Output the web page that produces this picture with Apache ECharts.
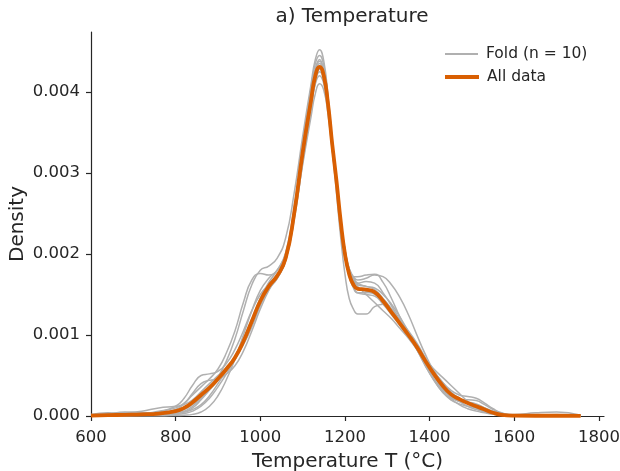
<!DOCTYPE html>
<html><head><meta charset="utf-8">
<script src="https://cdn.jsdelivr.net/npm/echarts@6/dist/echarts.min.js"></script>
<style>html,body{margin:0;padding:0;background:#fff}#c{width:620px;height:471px}</style>
</head><body><div id="c"></div>
<script>
// Temperature grid (°C)
var temps = [600,640,680,720,760,800,820,840,860,880,900,920,940,960,980,1000,1020,1040,1060,1080,1100,1120,1130,1140,1150,1160,1170,1180,1190,1200,1210,1220,1230,1250,1270,1290,1310,1330,1350,1370,1390,1410,1430,1450,1470,1490,1510,1530,1550,1570,1600,1650,1700,1757];
// Density values in units of 1e-3
var allData = [0.005,0.01,0.015,0.02,0.03,0.06,0.10,0.17,0.26,0.35,0.46,0.58,0.72,0.92,1.17,1.42,1.60,1.73,1.95,2.50,3.25,3.90,4.20,4.31,4.20,3.85,3.35,2.90,2.40,2.00,1.75,1.62,1.57,1.56,1.53,1.42,1.28,1.14,1.00,0.85,0.68,0.52,0.38,0.27,0.21,0.16,0.12,0.08,0.04,0.015,0.005,0.003,0.003,0.001];
var fold1 = [0.0,0.01,0.02,0.03,0.04,0.05,0.08,0.14,0.22,0.33,0.48,0.68,0.95,1.30,1.62,1.80,1.85,1.95,2.20,2.75,3.45,4.10,4.40,4.52,4.38,3.95,3.40,2.85,2.30,1.95,1.78,1.72,1.72,1.74,1.75,1.65,1.45,1.22,1.02,0.82,0.62,0.45,0.33,0.25,0.20,0.16,0.13,0.09,0.05,0.02,0.005,0.003,0.002,0.0];
var fold2 = [0.01,0.03,0.02,0.02,0.05,0.12,0.22,0.38,0.50,0.52,0.55,0.65,0.82,1.05,1.30,1.50,1.62,1.72,1.92,2.45,3.20,3.95,4.28,4.40,4.25,3.85,3.30,2.75,2.20,1.75,1.45,1.32,1.26,1.26,1.35,1.38,1.30,1.18,1.05,0.90,0.72,0.55,0.38,0.24,0.18,0.17,0.15,0.10,0.05,0.02,0.005,0.002,0.001,0.0];
var fold3 = [0.0,0.0,0.01,0.02,0.03,0.04,0.05,0.08,0.14,0.25,0.40,0.56,0.72,0.90,1.12,1.38,1.58,1.72,1.95,2.45,3.10,3.70,3.98,4.10,4.02,3.72,3.28,2.85,2.38,2.00,1.78,1.68,1.62,1.60,1.56,1.45,1.32,1.18,1.02,0.84,0.64,0.46,0.32,0.24,0.20,0.17,0.14,0.10,0.06,0.03,0.01,0.01,0.005,0.0];
var fold4 = [0.01,0.03,0.04,0.06,0.10,0.12,0.14,0.20,0.30,0.40,0.50,0.60,0.74,0.95,1.20,1.45,1.63,1.75,1.96,2.48,3.22,3.88,4.18,4.30,4.18,3.82,3.32,2.86,2.38,1.98,1.72,1.58,1.52,1.52,1.52,1.44,1.32,1.18,1.03,0.86,0.68,0.50,0.34,0.24,0.18,0.12,0.08,0.05,0.03,0.02,0.02,0.04,0.05,0.01];
var fold5 = [0.0,0.0,0.0,0.01,0.01,0.02,0.03,0.06,0.12,0.22,0.36,0.52,0.70,0.92,1.18,1.45,1.65,1.80,2.02,2.58,3.35,4.05,4.35,4.45,4.32,3.92,3.38,2.85,2.35,2.00,1.82,1.72,1.68,1.70,1.74,1.72,1.62,1.46,1.25,1.00,0.76,0.56,0.42,0.32,0.26,0.24,0.22,0.16,0.09,0.04,0.01,0.005,0.0,0.0];
var fold6 = [0.02,0.04,0.03,0.03,0.06,0.10,0.16,0.26,0.36,0.46,0.58,0.78,1.05,1.40,1.68,1.76,1.74,1.80,2.00,2.50,3.20,3.82,4.10,4.20,4.10,3.78,3.30,2.84,2.38,2.02,1.80,1.68,1.60,1.50,1.40,1.30,1.20,1.08,0.96,0.82,0.66,0.50,0.35,0.22,0.14,0.09,0.06,0.04,0.02,0.01,0.005,0.01,0.02,0.005];
var fold7 = [0.0,0.01,0.01,0.02,0.02,0.04,0.06,0.12,0.22,0.34,0.46,0.58,0.72,0.90,1.14,1.40,1.58,1.70,1.92,2.48,3.25,3.95,4.25,4.35,4.22,3.85,3.35,2.88,2.40,2.02,1.76,1.60,1.52,1.50,1.48,1.38,1.25,1.12,0.98,0.84,0.70,0.58,0.48,0.38,0.28,0.18,0.10,0.05,0.03,0.01,0.005,0.002,0.0,0.0];
var fold8 = [0.0,0.0,0.01,0.01,0.02,0.03,0.05,0.10,0.20,0.32,0.44,0.56,0.70,0.88,1.10,1.36,1.56,1.70,1.92,2.42,3.12,3.80,4.12,4.25,4.15,3.80,3.30,2.85,2.40,2.05,1.82,1.70,1.64,1.60,1.58,1.50,1.38,1.22,1.04,0.85,0.64,0.45,0.30,0.22,0.20,0.20,0.19,0.14,0.08,0.03,0.01,0.005,0.003,0.0];
var fold9 = [0.0,0.0,0.0,0.0,0.0,0.005,0.01,0.02,0.05,0.12,0.25,0.45,0.70,1.00,1.30,1.55,1.70,1.80,2.00,2.55,3.30,3.98,4.28,4.38,4.25,3.88,3.38,2.90,2.42,2.05,1.80,1.68,1.64,1.66,1.64,1.52,1.36,1.18,1.00,0.82,0.62,0.44,0.30,0.20,0.15,0.12,0.10,0.07,0.04,0.02,0.005,0.0,0.0,0.0];
var fold10 = [0.0,0.02,0.05,0.04,0.04,0.08,0.15,0.28,0.40,0.44,0.46,0.52,0.62,0.80,1.05,1.32,1.55,1.72,1.95,2.48,3.20,3.86,4.16,4.28,4.16,3.82,3.34,2.88,2.42,2.05,1.80,1.66,1.58,1.54,1.50,1.40,1.28,1.14,1.00,0.85,0.70,0.55,0.42,0.30,0.22,0.15,0.10,0.06,0.03,0.01,0.005,0.002,0.001,0.0];
var folds = [fold1,fold2,fold3,fold4,fold5,fold6,fold7,fold8,fold9,fold10];
var xTicks = [600,800,1000,1200,1400,1600,1800];
var yTicks = [0,0.001,0.002,0.003,0.004];

function pairs(ys){ return temps.map(function(t,i){ return [t, ys[i]*1e-3]; }); }

var FONT = 'DejaVu Sans';
var TXT = '#262626';
var GRAY = '#b0b0b0';
var ORANGE = '#d95f02';

var series = folds.map(function(f){
  return {type:'line', name:'Fold (n = 10)', data:pairs(f), showSymbol:false, symbol:'none',
    smooth:0.5, lineStyle:{color:GRAY, width:1.5}, itemStyle:{color:GRAY}, z:2};
});
series.push({type:'line', name:'All data', data:pairs(allData), showSymbol:false, symbol:'none',
  smooth:0.5, lineStyle:{color:ORANGE, width:3.8}, itemStyle:{color:ORANGE}, z:5});

var chart = echarts.init(document.getElementById('c'), null, {renderer:'canvas'});
chart.setOption({
  animation:false,
  backgroundColor:'#fff',
  textStyle:{fontFamily:FONT},
  title:{text:'a) Temperature', left:347, top:2, textAlign:'center',
    textStyle:{fontFamily:FONT, fontSize:20, fontWeight:'normal', color:TXT}},
  legend:[
    {data:['Fold (n = 10)'], left:440, top:41, itemWidth:33, itemHeight:2, icon:'rect',
      textStyle:{fontFamily:FONT, fontSize:15.5, color:TXT, padding:[0,0,0,3]}},
    {data:['All data'], left:440, top:64, itemWidth:34, itemHeight:4, icon:'rect',
      textStyle:{fontFamily:FONT, fontSize:15.5, color:TXT, padding:[0,0,0,3]}}
  ],
  grid:{left:91, right:16, top:32, bottom:55, containLabel:false, outerBoundsMode:'none'},
  xAxis:{type:'value', min:600, max:1812, interval:200,
    name:'Temperature T (°C)', nameLocation:'middle', nameGap:36, nameMoveOverlap:false,
    nameTextStyle:{fontFamily:FONT, fontSize:20, color:TXT},
    axisLine:{show:true, onZero:false, lineStyle:{color:TXT, width:1.2}},
    axisTick:{show:true, length:5, lineStyle:{color:TXT, width:1.2}, customValues:xTicks},
    axisLabel:{fontFamily:FONT, fontSize:16.5, color:TXT, margin:13, customValues:xTicks,
      formatter:function(v){ return String(v); }},
    splitLine:{show:false}},
  yAxis:{type:'value', min:0, max:0.00474,
    name:'Density', nameLocation:'middle', nameGap:63, nameMoveOverlap:false,
    nameTextStyle:{fontFamily:FONT, fontSize:20, color:TXT},
    axisLine:{show:true, lineStyle:{color:TXT, width:1.2}},
    axisTick:{show:true, length:5, lineStyle:{color:TXT, width:1.2}, customValues:yTicks},
    axisLabel:{fontFamily:FONT, fontSize:16.5, color:TXT, margin:11, customValues:yTicks,
      formatter:function(v){ return v.toFixed(3); }},
    splitLine:{show:false}},
  series:series
});
</script></body></html>
